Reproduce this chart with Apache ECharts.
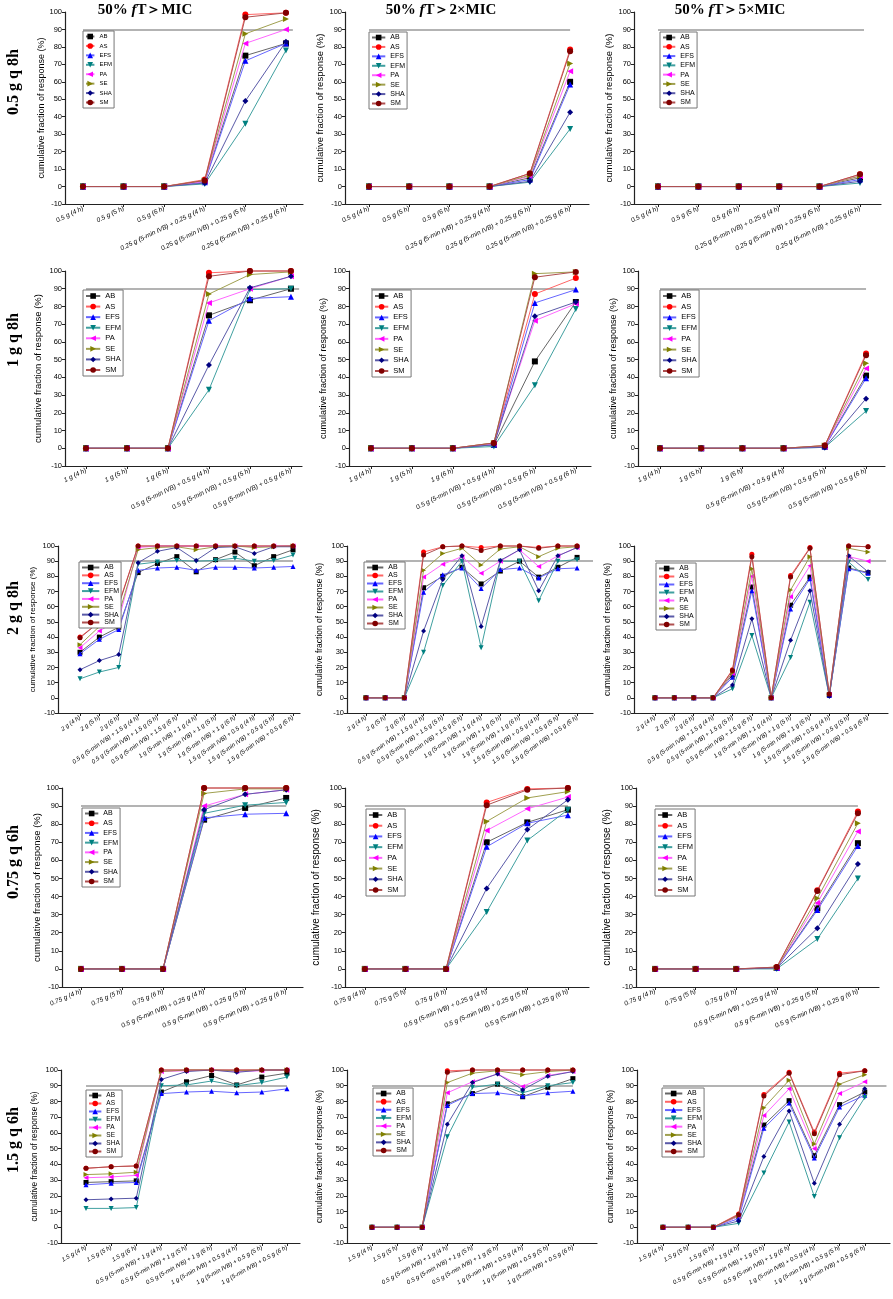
<!DOCTYPE html>
<html><head><meta charset="utf-8">
<script src="https://cdn.jsdelivr.net/npm/echarts@6/dist/echarts.min.js"></script>
<style>html,body{margin:0;padding:0;background:#fff}#c{width:893px;height:1299px}</style>
</head><body><div id="c"></div>
<script>
// ---------- data ----------
const seriesNames = ['AB', 'AS', 'EFS', 'EFM', 'PA', 'SE', 'SHA', 'SM'];
const TARGET = 90;
const colTitles = ['MIC', '2×MIC', '5×MIC'];
const rowLabels = ['0.5 g q 8h', '1 g q 8h', '2 g q 8h', '0.75 g q 6h', '1.5 g q 6h'];
const yName = 'cumulative fraction of response (%)';

const cats1 = ['0.5 g (4 h)', '0.5 g (5 h)', '0.5 g (6 h)', '0.25 g (5-min IVB) + 0.25 g (4 h)', '0.25 g (5-min IVB) + 0.25 g (5 h)', '0.25 g (5-min IVB) + 0.25 g (6 h)'];
const cats2 = ['1 g (4 h)', '1 g (5 h)', '1 g (6 h)', '0.5 g (5-min IVB) + 0.5 g (4 h)', '0.5 g (5-min IVB) + 0.5 g (5 h)', '0.5 g (5-min IVB) + 0.5 g (6 h)'];
const cats3 = ['2 g (4 h)', '2 g (5 h)', '2 g (6 h)', '0.5 g (5-min IVB) + 1.5 g (4 h)', '0.5 g (5-min IVB) + 1.5 g (5 h)', '0.5 g (5-min IVB) + 1.5 g (6 h)', '1 g (5-min IVB) + 1 g (4 h)', '1 g (5-min IVB) + 1 g (5 h)', '1 g (5-min IVB) + 1 g (6 h)', '1.5 g (5-min IVB) + 0.5 g (4 h)', '1.5 g (5-min IVB) + 0.5 g (5 h)', '1.5 g (5-min IVB) + 0.5 g (6 h)'];
const cats4 = ['0.75 g (4 h)', '0.75 g (5 h)', '0.75 g (6 h)', '0.5 g (5-min IVB) + 0.25 g (4 h)', '0.5 g (5-min IVB) + 0.25 g (5 h)', '0.5 g (5-min IVB) + 0.25 g (6 h)'];
const cats5 = ['1.5 g (4 h)', '1.5 g (5 h)', '1.5 g (6 h)', '0.5 g (5-min IVB) + 1 g (4 h)', '0.5 g (5-min IVB) + 1 g (5 h)', '0.5 g (5-min IVB) + 1 g (6 h)', '1 g (5-min IVB) + 0.5 g (4 h)', '1 g (5-min IVB) + 0.5 g (5 h)', '1 g (5-min IVB) + 0.5 g (6 h)'];

// each panel: rows in order AB, AS, EFS, EFM, PA, SE, SHA, SM
const r1c1 = [
  [0, 0, 0, 3, 75, 82], [0, 0, 0, 4, 98.5, 99.5], [0, 0, 0, 2.5, 72, 82], [0, 0, 0, 1.5, 36, 78],
  [0, 0, 0, 3, 82, 90], [0, 0, 0, 3.5, 87.5, 96], [0, 0, 0, 2, 49, 83], [0, 0, 0, 3.5, 97, 99.5]];
const r1c2 = [
  [0, 0, 0, 0, 5, 60], [0, 0, 0, 0, 7.5, 78.5], [0, 0, 0, 0, 4, 58.5], [0, 0, 0, 0, 2.5, 33],
  [0, 0, 0, 0, 6, 66], [0, 0, 0, 0, 6.5, 70.5], [0, 0, 0, 0, 3, 42.5], [0, 0, 0, 0, 7.5, 77.5]];
const r1c3 = [
  [0, 0, 0, 0, 0, 5], [0, 0, 0, 0, 0, 7], [0, 0, 0, 0, 0, 4], [0, 0, 0, 0, 0, 2],
  [0, 0, 0, 0, 0, 6], [0, 0, 0, 0, 0, 6], [0, 0, 0, 0, 0, 3], [0, 0, 0, 0, 0, 7]];
const r2c1 = [
  [0, 0, 0, 75, 83.5, 90], [0, 0, 0, 99, 100, 100], [0, 0, 0, 72, 84.5, 85.5], [0, 0, 0, 33, 89.5, 90],
  [0, 0, 0, 82, 90, 97], [0, 0, 0, 87, 98, 99.5], [0, 0, 0, 47, 90.5, 97], [0, 0, 0, 97, 100, 100]];
const r2c2 = [
  [0, 0, 0, 2, 49, 82.5], [0, 0, 0, 3, 87, 96], [0, 0, 0, 2, 82, 89.5], [0, 0, 0, 1, 35.5, 78.5],
  [0, 0, 0, 2.5, 72, 81.5], [0, 0, 0, 3, 98.5, 99.5], [0, 0, 0, 2, 74.5, 82.5], [0, 0, 0, 3, 96.5, 99.5]];
const r2c3 = [
  [0, 0, 0, 0, 1, 41], [0, 0, 0, 0, 1.5, 53.5], [0, 0, 0, 0, 1, 39.5], [0, 0, 0, 0, 0.5, 21],
  [0, 0, 0, 0, 1, 45], [0, 0, 0, 0, 1.5, 48], [0, 0, 0, 0, 0.5, 28], [0, 0, 0, 0, 1.5, 52.5]];
const r3c1 = [
  [30, 40, 46.5, 82.5, 88.5, 93, 83, 91, 96, 87, 93, 97.5],
  [40, 50, 62, 100, 100, 100, 100, 100, 100, 100, 100, 100],
  [29, 38.5, 45, 84, 85.5, 86, 84, 86, 86, 85.5, 86, 86.5],
  [12.5, 17, 20, 88, 89.5, 90.5, 90, 90.5, 92, 90, 90.5, 94],
  [33, 44, 51.5, 99, 100, 100, 100, 100, 100, 99.5, 100, 100],
  [35, 47, 55, 97.5, 99, 99.5, 97.5, 99.5, 100, 99, 99.5, 100],
  [18.5, 24.5, 28.5, 89, 96.5, 99, 90.5, 99, 99.5, 95, 99.5, 99.5],
  [39.5, 50, 61, 100, 100, 100, 100, 100, 100, 100, 100, 100]];
const r3c2 = [
  [0, 0, 0, 72.5, 80, 86, 75, 83.5, 90, 79.5, 86, 92.5],
  [0, 0, 0, 96, 99.5, 100, 99, 100, 100, 99, 100, 100],
  [0, 0, 0, 69.5, 81, 85.5, 72, 84.5, 85.5, 79, 85, 85.5],
  [0, 0, 0, 30, 74, 90, 33, 90, 90, 64, 90, 91],
  [0, 0, 0, 79.5, 88, 93, 82, 90, 97.5, 86.5, 93.5, 99],
  [0, 0, 0, 84, 95, 98.5, 87.5, 98, 99.5, 93, 98.5, 99.5],
  [0, 0, 0, 44, 78, 93.5, 47, 90.5, 97.5, 70.5, 93.5, 99],
  [0, 0, 0, 94, 99.5, 100, 97, 100, 100, 98.5, 100, 100]];
const r3c3 = [
  [0, 0, 0, 0, 15, 73, 0, 61, 79.5, 2, 85.5, 82.5],
  [0, 0, 0, 0, 18.5, 94.5, 0, 80.5, 99, 2.5, 100, 99.5],
  [0, 0, 0, 0, 13.5, 70.5, 0, 58.5, 78.5, 1.5, 85, 82],
  [0, 0, 0, 0, 6, 41, 0, 26.5, 63, 1, 89.5, 78],
  [0, 0, 0, 0, 16, 80, 0, 66.5, 87, 2, 93, 90],
  [0, 0, 0, 0, 16.5, 85, 0, 71, 93, 2, 98.5, 96],
  [0, 0, 0, 0, 8.5, 52, 0, 38, 70.5, 1, 93.5, 83],
  [0, 0, 0, 0, 18, 93, 0, 79.5, 98.5, 2.5, 100, 99.5]];
const r4c1 = [
  [0, 0, 0, 82.5, 89, 94.5], [0, 0, 0, 100, 100, 100], [0, 0, 0, 83.5, 85.5, 86], [0, 0, 0, 86, 90.5, 92],
  [0, 0, 0, 90, 96.5, 99], [0, 0, 0, 97, 99.5, 99.5], [0, 0, 0, 88, 96.5, 99], [0, 0, 0, 100, 100, 100]];
const r4c2 = [
  [0, 0, 0, 70, 81, 88], [0, 0, 0, 92, 99.5, 100], [0, 0, 0, 67.5, 80.5, 85], [0, 0, 0, 31.5, 71, 88],
  [0, 0, 0, 76.5, 88.5, 95], [0, 0, 0, 81.5, 94.5, 98], [0, 0, 0, 44.5, 77, 93.5], [0, 0, 0, 90.5, 99, 100]];
const r4c3 = [
  [0, 0, 0, 0.5, 33.5, 69.5], [0, 0, 0, 1, 43.5, 87], [0, 0, 0, 0.5, 32.5, 68], [0, 0, 0, 0, 16.5, 50],
  [0, 0, 0, 0.5, 36.5, 76], [0, 0, 0, 0.5, 39, 80.5], [0, 0, 0, 0.5, 22.5, 58], [0, 0, 0, 1, 43, 86]];
const r5c1 = [
  [28.5, 29, 29.5, 86, 92.5, 96.5, 90.5, 95.5, 98],
  [37.5, 38.5, 39, 100, 100, 100, 100, 100, 100],
  [27, 28, 28.5, 85, 86, 86.5, 85.5, 86, 88],
  [12, 12, 12.5, 90, 90.5, 93, 90, 92, 95.5],
  [31.5, 32, 33, 99, 99.5, 100, 99, 99.5, 100],
  [33.5, 34, 35, 99, 100, 100, 99.5, 100, 100],
  [17.5, 18, 18.5, 94, 99, 100, 98.5, 100, 100],
  [37.5, 38.5, 39, 100, 100, 100, 100, 100, 100]];
const r5c2 = [
  [0, 0, 0, 78.5, 85, 91, 83, 89, 94.5],
  [0, 0, 0, 99.5, 100, 100, 100, 100, 100],
  [0, 0, 0, 77.5, 85, 85.5, 83.5, 85.5, 86.5],
  [0, 0, 0, 57.5, 89, 91, 85.5, 90, 92],
  [0, 0, 0, 85.5, 92.5, 97.5, 89.5, 96.5, 99],
  [0, 0, 0, 92, 98, 99.5, 97, 99, 100],
  [0, 0, 0, 65.5, 92, 97.5, 87.5, 96, 99],
  [0, 0, 0, 98.5, 100, 100, 100, 100, 100]];
const r5c3 = [
  [0, 0, 0, 7, 65, 80.5, 45.5, 78, 86],
  [0, 0, 0, 8.5, 84.5, 98.5, 60.5, 98, 99.5],
  [0, 0, 0, 5.5, 63, 79, 44, 76.5, 84],
  [0, 0, 0, 2.5, 34.5, 67, 19.5, 57, 82.5],
  [0, 0, 0, 7, 71, 88, 50, 85, 92.5],
  [0, 0, 0, 7.5, 76, 93.5, 53, 91, 97],
  [0, 0, 0, 4, 45, 74, 28, 65.5, 88],
  [0, 0, 0, 8, 83.5, 98, 59.5, 97, 99.5]];

// ---------- styles ----------
const markColors = ['#000000', '#FF0000', '#0000FF', '#008080', '#FF00FF', '#808000', '#000080', '#800000'];
const lineColors = ['#666666', '#FF6666', '#6666FF', '#40A0A0', '#FF66FF', '#A0A050', '#5A5AA8', '#B05050'];
const symbols = ['rect', 'circle', 'triangle', 'triangle', 'triangle', 'triangle', 'diamond', 'circle'];
const symRot = [0, 0, 0, 180, 90, -90, 0, 0];

// layout per panel: axis left/right px, plot top/height, x range, etc.
const panels = [
  {d: r1c1, c: cats1, L: 65, R: 303, t: 12, h: 192, mn: -0.443, mx: 5.42, re: 5.17, rot: 26, lf: 6.5, sz: 6, ng: 15, nf: 9, lg: [83, 31, 30, 77, 6]},
  {d: r1c2, c: cats1, L: 345, R: 589, t: 12, h: 192, mn: -0.597, mx: 5.47, re: 5, rot: 26, lf: 6.5, sz: 6, ng: 18, nf: 9.5, lg: [369, 32, 37, 77, 7]},
  {d: r1c3, c: cats1, L: 634, R: 881, t: 12, h: 192, mn: -0.594, mx: 5.52, re: 5.1, rot: 26, lf: 6.5, sz: 6, ng: 17, nf: 9.5, lg: [660, 32, 36, 76, 7]},
  {d: r2c1, c: cats2, L: 65, R: 302, t: 271, h: 195, mn: -0.512, mx: 5.27, re: 5.2, rot: 26, lf: 6.5, sz: 6, ng: 22, nf: 9.5, lg: [83, 290, 39, 78, 7.5]},
  {d: r2c2, c: cats2, L: 349, R: 591, t: 271, h: 195, mn: -0.537, mx: 5.37, re: 5, rot: 26, lf: 6.5, sz: 6, ng: 21, nf: 9, lg: [372, 290, 38, 79, 7.5]},
  {d: r2c3, c: cats2, L: 638, R: 885, t: 271, h: 195, mn: -0.534, mx: 5.46, re: 5, rot: 26, lf: 6.5, sz: 6, ng: 20, nf: 9, lg: [660, 290, 38, 79, 7.5]},
  {d: r3c1, c: cats3, L: 58, R: 300, t: 546, h: 167, mn: -1.136, mx: 11.36, re: 11, rot: 35, lf: 6, sz: 5, ng: 21, nf: 8, lg: [79, 562, 41, 66, 7]},
  {d: r3c2, c: cats3, L: 347, R: 593, t: 546, h: 167, mn: -0.99, mx: 11.83, re: 11.83, rot: 35, lf: 6, sz: 5, ng: 23, nf: 8.5, lg: [364, 562, 40, 67, 7]},
  {d: r3c3, c: cats3, L: 634, R: 888, t: 546, h: 167, mn: -1.085, mx: 12.03, re: 11.93, rot: 35, lf: 6, sz: 5, ng: 22, nf: 8.5, lg: [656, 563, 39, 67, 7]},
  {d: r4c1, c: cats4, L: 62, R: 303, t: 788, h: 199, mn: -0.463, mx: 5.41, re: 5, rot: 23, lf: 6.5, sz: 6, ng: 20, nf: 9.5, lg: [82, 808, 37, 79, 7]},
  {d: r4c2, c: cats4, L: 345, R: 589, t: 788, h: 199, mn: -0.49, mx: 5.52, re: 5, rot: 23, lf: 6.5, sz: 6, ng: 24, nf: 10, lg: [366, 809, 38, 79, 7.5]},
  {d: r4c3, c: cats4, L: 636, R: 879, t: 788, h: 199, mn: -0.47, mx: 5.52, re: 5, rot: 23, lf: 6.5, sz: 6, ng: 24, nf: 10, lg: [655, 809, 39, 79, 7.5]},
  {d: r5c1, c: cats5, L: 61, R: 300, t: 1070, h: 173, mn: -0.996, mx: 8.52, re: 8, rot: 29, lf: 6, sz: 5, ng: 22, nf: 8.3, lg: [86, 1090, 35, 67, 6.5]},
  {d: r5c2, c: cats5, L: 347, R: 597, t: 1070, h: 173, mn: -0.996, mx: 8.96, re: 8, rot: 29, lf: 6, sz: 5, ng: 23, nf: 8.5, lg: [373, 1088, 39, 68, 7]},
  {d: r5c3, c: cats5, L: 637, R: 890, t: 1070, h: 173, mn: -1.03, mx: 9.0, re: 8.86, rot: 29, lf: 6, sz: 5, ng: 22, nf: 8.5, lg: [662, 1088, 41, 69, 7]}
];

const titleX = [145, 441, 730];
const rowLabelY = [82, 340, 608, 862, 1140];

const grid = [], xAxis = [], yAxis = [], series = [], legend = [];
const axisCol = '#222';
const sans = 'Arial, "Liberation Sans", sans-serif';

panels.forEach((p, k) => {
  const idx = p.c.map((_, i) => i);
  grid.push({left: p.L, top: p.t, width: p.R - p.L, height: p.h});
  xAxis.push({
    type: 'value', gridIndex: k, min: p.mn, max: p.mx,
    splitLine: {show: false},
    axisLine: {show: true, onZero: false, lineStyle: {color: axisCol, width: 1.2}},
    axisTick: {show: true, length: 3, customValues: idx, lineStyle: {color: axisCol, width: 1}},
    axisLabel: {
      customValues: idx, rotate: p.rot, fontSize: p.lf, fontStyle: 'italic', color: '#000',
      fontFamily: sans, margin: 4,
      formatter: v => { const j = Math.round(v); return p.c[j] !== undefined ? p.c[j] : ''; }
    }
  });
  yAxis.push({
    type: 'value', gridIndex: k, min: -10, max: 100, interval: 10,
    splitLine: {show: false},
    axisLine: {show: true, onZero: false, lineStyle: {color: axisCol, width: 1.2}},
    axisTick: {show: true, length: 3, lineStyle: {color: axisCol, width: 1}},
    axisLabel: {fontSize: 7.5, color: '#000', margin: 3, fontFamily: sans},
    name: yName, nameLocation: 'middle', nameGap: p.ng,
    nameTextStyle: {fontSize: p.nf, color: '#000', fontFamily: sans}
  });
  seriesNames.forEach((nm, j) => {
    const s = {
      type: 'line', name: nm, xAxisIndex: k, yAxisIndex: k,
      data: p.d[j].map((v, i) => [i, v]),
      symbol: symbols[j], symbolRotate: symRot[j], symbolSize: p.sz,
      itemStyle: {color: markColors[j]},
      lineStyle: {color: lineColors[j], width: 1},
      clip: false, z: 3 + j, animation: false,
      emphasis: {disabled: true}
    };
    if (j === 0) {
      s.markLine = {
        silent: true, symbol: ['none', 'none'], label: {show: false}, z: 1,
        lineStyle: {color: '#9a9a9a', width: 1.5, type: 'solid'},
        data: [[{coord: [0, TARGET]}, {coord: [p.re, TARGET]}]]
      };
    }
    series.push(s);
  });
  const [lx, ly, lw, lh, lfz] = p.lg;
  const ih = 7;
  const gap = Math.max(0.5, (lh - 4 - 8 * ih) / 7);
  const iw = Math.max(8, lw - 4 - 5 - 2.1 * lfz);
  legend.push({
    data: seriesNames, orient: 'vertical', left: lx, top: ly, z: 30,
    itemWidth: iw, itemHeight: ih, itemGap: gap, padding: 2,
    borderColor: '#777', borderWidth: 1, backgroundColor: '#fff',
    selectedMode: false,
    textStyle: {fontSize: lfz, color: '#000', lineHeight: ih, fontFamily: sans}
  });
});

const serif = '"Times New Roman", "Liberation Serif", serif';
const graphic = [];
colTitles.forEach((t, i) => {
  graphic.push({
    type: 'text', x: titleX[i], y: 10,
    style: {
      text: '{n|50% }{i|f}{n|T＞' + t + '}',
      align: 'center', verticalAlign: 'middle',
      rich: {
        n: {fontFamily: serif, fontWeight: 'bold', fontSize: 15, fill: '#000', color: '#000'},
        i: {fontFamily: serif, fontWeight: 'bold', fontStyle: 'italic', fontSize: 15, fill: '#000', color: '#000'}
      }
    }
  });
});
rowLabels.forEach((t, i) => {
  graphic.push({
    type: 'text', x: 14, y: rowLabelY[i], rotation: Math.PI / 2,
    style: {text: t, font: 'bold 16px ' + serif, fill: '#000', align: 'center', verticalAlign: 'middle'}
  });
});

const chart = echarts.init(document.getElementById('c'), null, {renderer: 'canvas'});
chart.setOption({
  animation: false, backgroundColor: '#fff',
  grid, xAxis, yAxis, series, legend, graphic
});
</script>
</body></html>
